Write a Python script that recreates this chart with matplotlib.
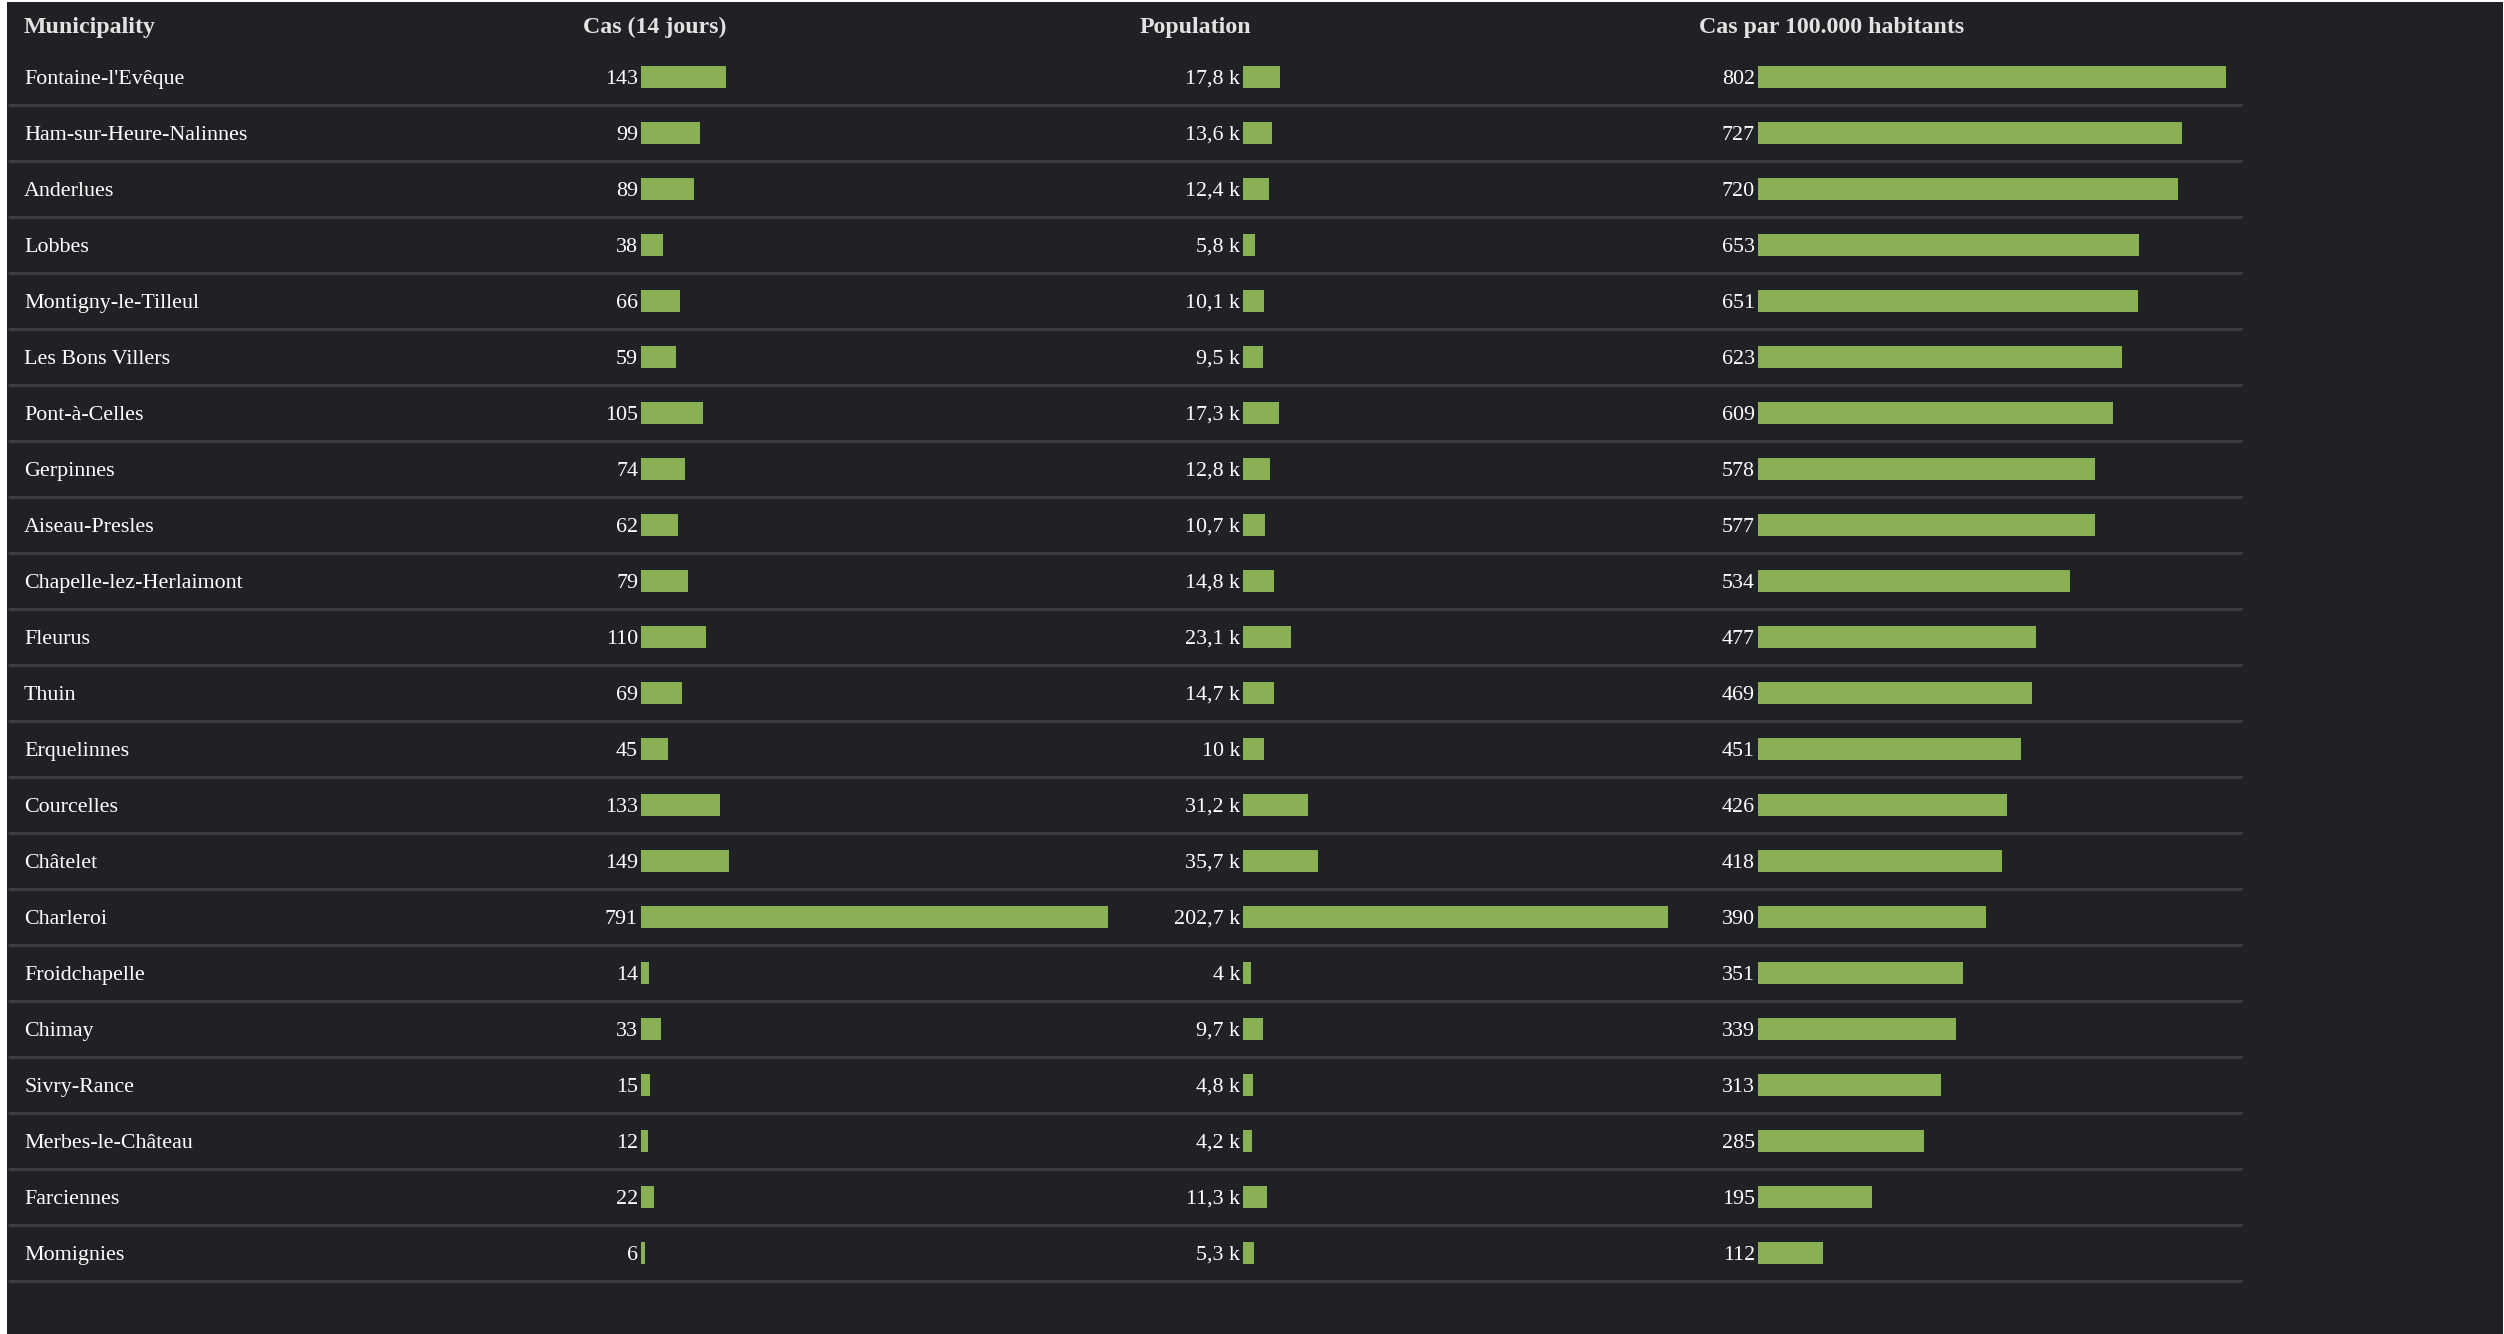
import matplotlib
matplotlib.use("Agg")
import matplotlib.pyplot as plt

municipalities = ["Fontaine-l'Evêque", "Ham-sur-Heure-Nalinnes", "Anderlues", "Lobbes",
                  "Montigny-le-Tilleul", "Les Bons Villers", "Pont-à-Celles", "Gerpinnes",
                  "Aiseau-Presles", "Chapelle-lez-Herlaimont", "Fleurus", "Thuin",
                  "Erquelinnes", "Courcelles", "Châtelet", "Charleroi", "Froidchapelle",
                  "Chimay", "Sivry-Rance", "Merbes-le-Château", "Farciennes", "Momignies"]
cases_14d = [143, 99, 89, 38, 66, 59, 105, 74, 62, 79, 110, 69, 45, 133, 149, 791,
             14, 33, 15, 12, 22, 6]
population_k = [17.8, 13.6, 12.4, 5.8, 10.1, 9.5, 17.3, 12.8, 10.7, 14.8, 23.1, 14.7,
                10, 31.2, 35.7, 202.7, 4, 9.7, 4.8, 4.2, 11.3, 5.3]
rate_100k = [802, 727, 720, 653, 651, 623, 609, 578, 577, 534, 477, 469, 451, 426,
             418, 390, 351, 339, 313, 285, 195, 112]
headers = ["Municipality", "Cas (14 jours)", "Population", "Cas par 100.000 habitants"]

W, H = 2504, 1334
BG = "#202125"
GREEN = "#8AB056"
SEP = "#3b3c40"
SERIF = ["Liberation Serif", "DejaVu Serif"]

fig = plt.figure(figsize=(W / 100, H / 100), dpi=100, facecolor="white")

# dark page background (thin white border at left/top like the screenshot)
bg = fig.add_axes([7 / W, 0, (W - 8) / W, (H - 2) / H])
bg.set_facecolor(BG)
bg.set_xticks([])
bg.set_yticks([])
for s in bg.spines.values():
    s.set_visible(False)

ROW0, ROWH = 77.0, 56.0
n = len(municipalities)
y_top = (0 - ROW0) / ROWH
y_bot = (H - ROW0) / ROWH
rows = list(range(n))
BASE = 7.0 / ROWH  # text baseline offset below row centre

ax = fig.add_axes([0, 0, 1, 1])
ax.set_xlim(0, W)
ax.set_ylim(y_bot, y_top)
ax.axis("off")
ax.patch.set_alpha(0)

def fmt_pop(v):
    s = f"{v:.1f}".replace(".", ",")
    if s.endswith(",0"):
        s = s[:-2]
    return s + " k"

# columns: (values, bar start px, bar end px for max, label formatter)
columns = [
    (cases_14d, 641, 1108.5, lambda v: f"{v}"),
    (population_k, 1243, 1668, fmt_pop),
    (rate_100k, 1758, 2226, lambda v: f"{v}"),
]

for vals, x0, x1, f in columns:
    bax = fig.add_axes([x0 / W, 0, (x1 - x0) / W, 1])
    bax.set_xlim(0, max(vals))
    bax.set_ylim(y_bot, y_top)
    bax.axis("off")
    bax.patch.set_alpha(0)
    bax.barh(rows, vals, height=22 / ROWH, color=GREEN, left=0)
    for i, v in enumerate(vals):
        ax.text(x0 - 3, i + BASE, f(v), ha="right", va="baseline", color="white",
                fontsize=15.8, family=SERIF)

for i, name in enumerate(municipalities):
    ax.text(24, i + BASE, name, ha="left", va="baseline", color="white", fontsize=15.8,
            family=SERIF)
    ax.plot([8, 2242], [i + 0.5, i + 0.5], color=SEP, lw=2.2, solid_capstyle="butt")

hy = (32.5 - ROW0) / ROWH
for hx, txt in zip([24, 583, 1140, 1699], headers):
    ax.text(hx, hy, txt, ha="left", va="baseline", color="#e2e2e2", fontsize=17.2,
            fontweight="bold", family=SERIF)

fig.savefig("out.png", dpi=100, facecolor="white")
